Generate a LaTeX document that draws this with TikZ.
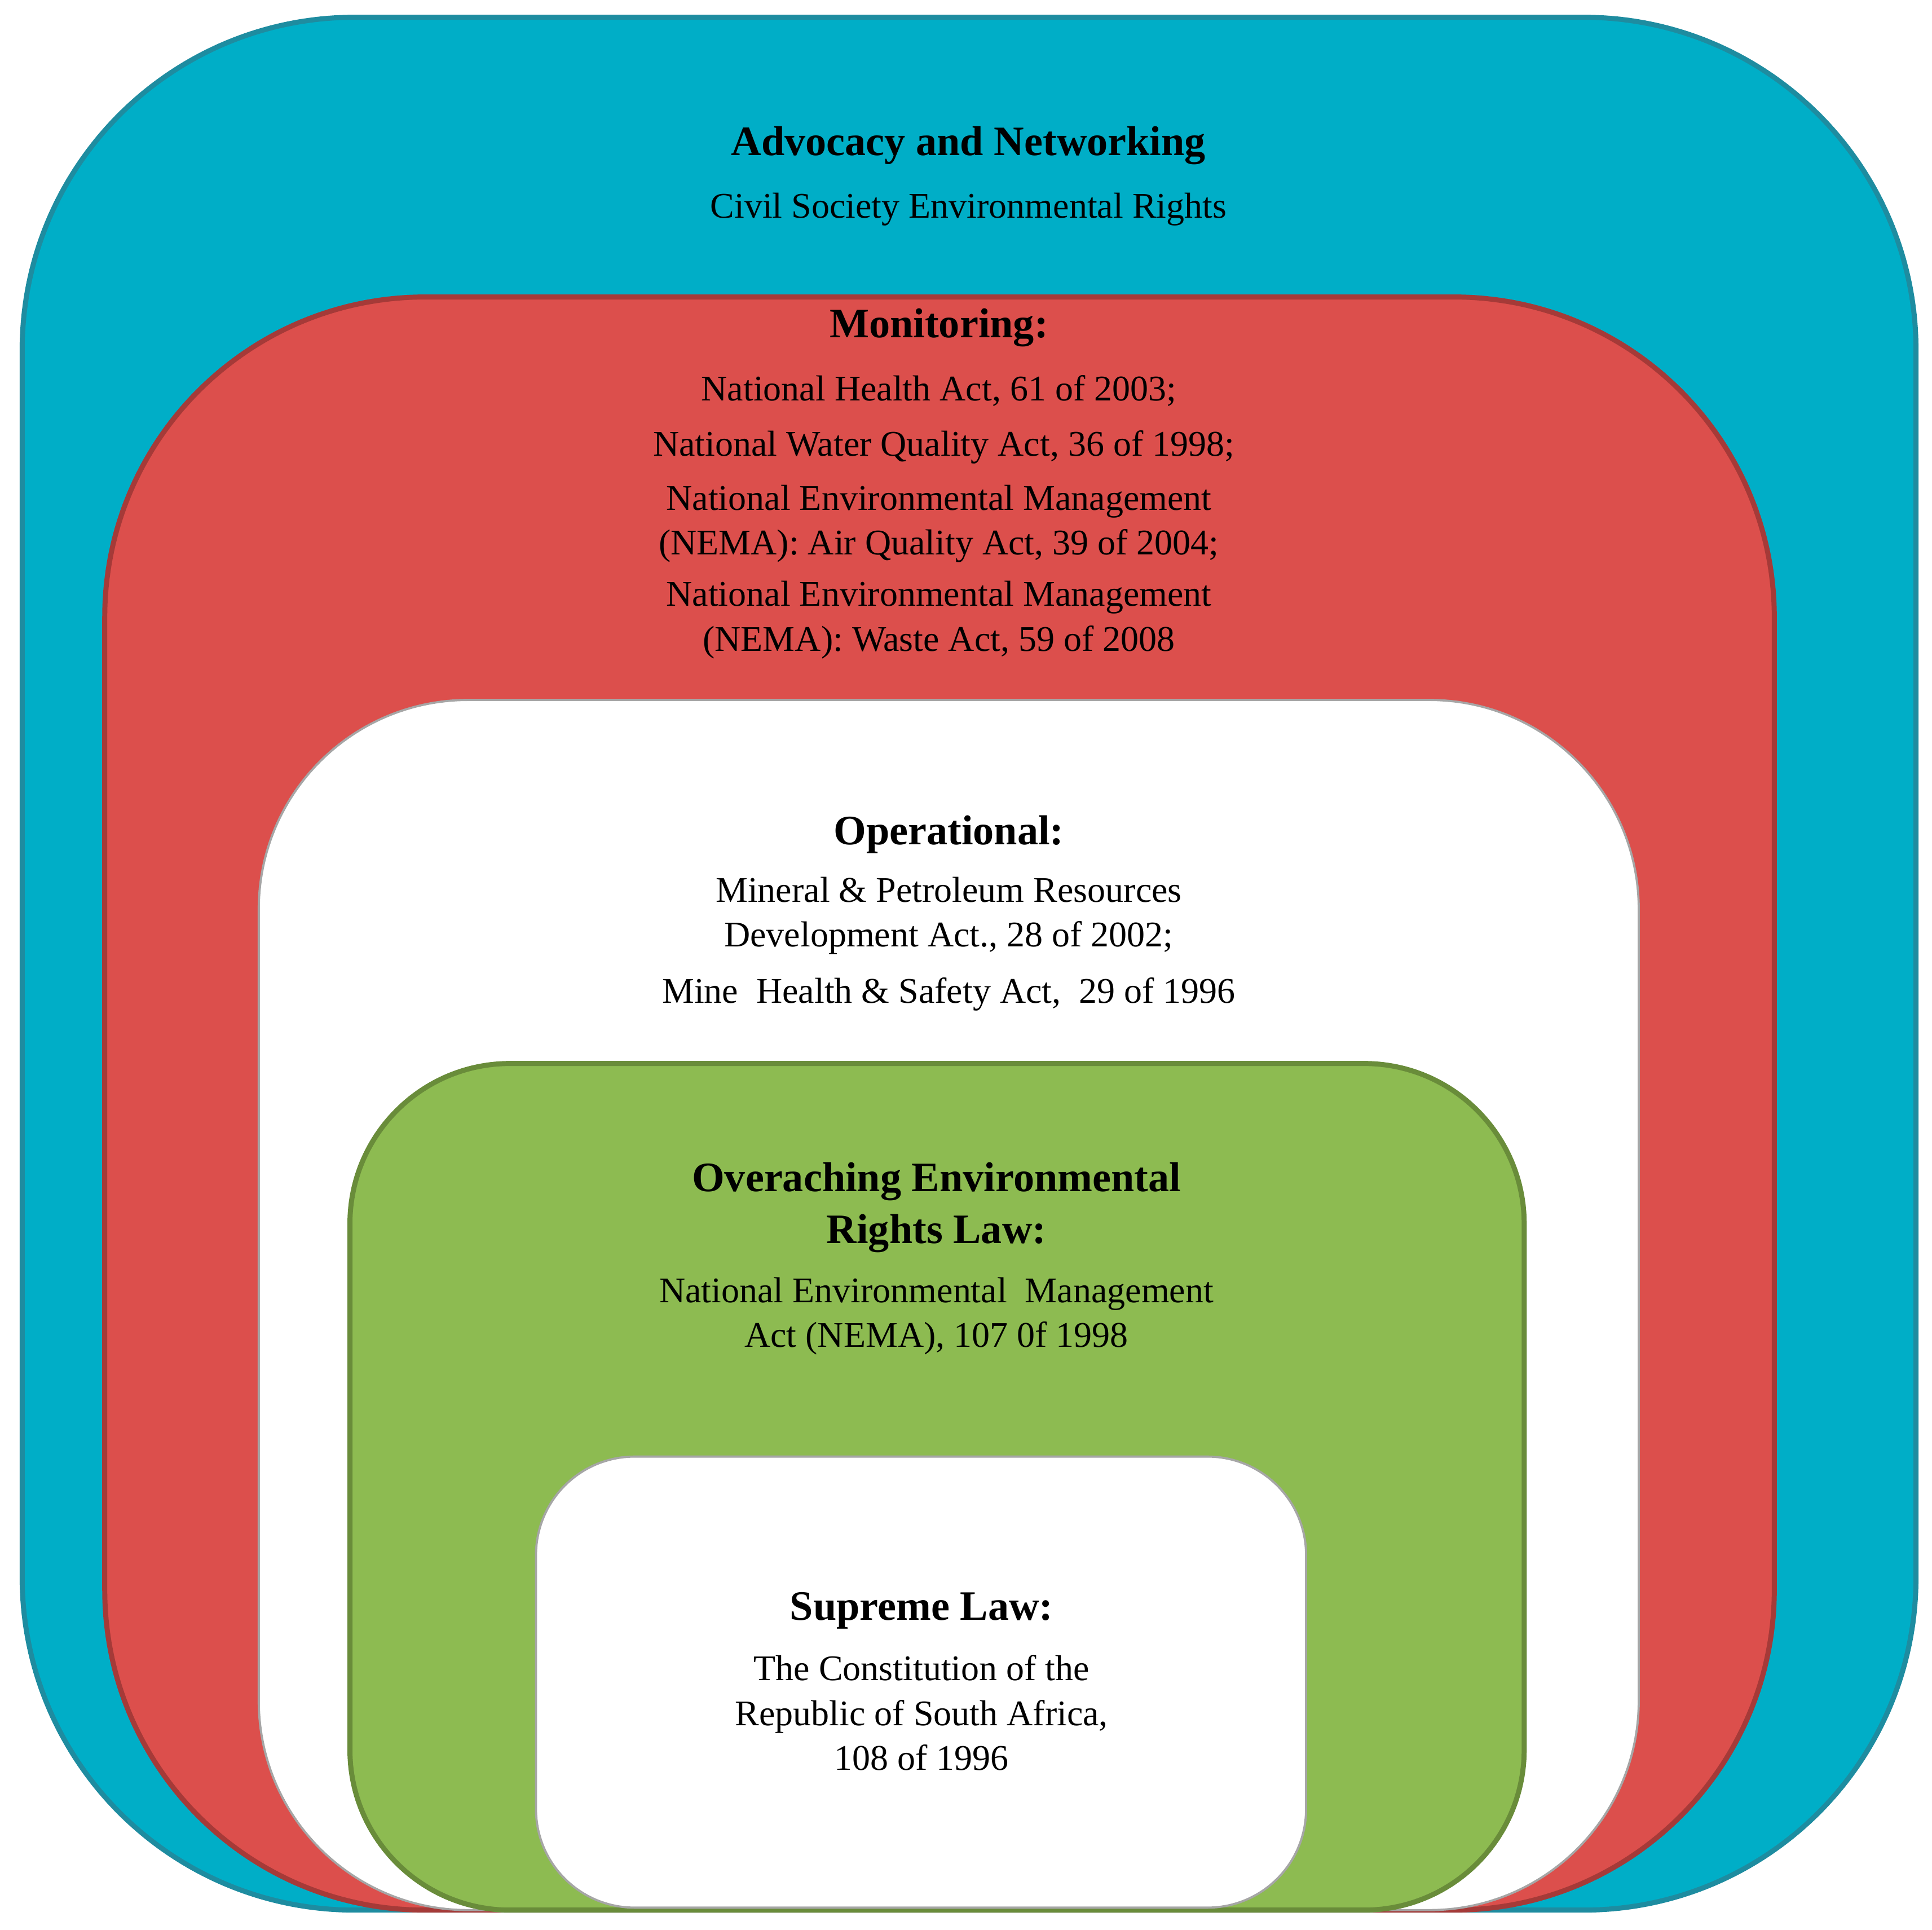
\documentclass[tikz,border=0pt]{standalone}
\usepackage{fontspec}
\setmainfont{Liberation Serif}
\begin{document}
\begin{tikzpicture}[x=0.03cm,y=-0.03cm,
 box/.style={line width=3.5pt},
 body/.style={font=\fontsize{25}{31}\selectfont,align=center,inner sep=0pt},
 head/.style={font=\fontsize{29}{36}\selectfont\bfseries,align=center,inner sep=0pt}]
\useasboundingbox (0,0) rectangle (1568,1566);
\definecolor{cblue}{RGB}{0,174,199}\definecolor{bblue}{RGB}{30,140,160}
\definecolor{cred}{RGB}{220,79,76}\definecolor{bred}{RGB}{165,58,56}
\definecolor{cgreen}{RGB}{141,187,81}\definecolor{bgreen}{RGB}{105,140,58}
\draw[box,fill=cblue,draw=bblue,rounded corners=8.1cm] (18,14) rectangle (1555,1550);
\draw[box,fill=cred,draw=bred,rounded corners=7.8cm] (85,241) rectangle (1440,1550);
\draw[box,fill=white,draw=gray!70,line width=1.5pt,rounded corners=5.1cm] (210,568) rectangle (1330,1550);
\draw[box,fill=cgreen,draw=bgreen,rounded corners=3.9cm] (284,863) rectangle (1237,1550);
\draw[box,fill=white,draw=gray!70,line width=1.5pt,rounded corners=2.4cm] (435,1182) rectangle (1060,1548);
\node[head] (a1) at (786,118) {Advocacy and Networking};
\node[body] (a2) at (786,170) {Civil Society Environmental Rights};
\node[head] (m1) at (762,266) {Monitoring:};
\node[body] (m2) at (762,317) {National Health Act, 61 of 2003;};
\node[body] (m3) at (766,363) {National Water Quality Act, 36 of 1998;};
\node[body] (m4) at (762,425) {National Environmental Management\\(NEMA): Air Quality Act, 39 of 2004;};
\node[body] (m5) at (762,503) {National Environmental Management\\(NEMA): Waste Act, 59 of 2008};
\node[head] (o1) at (770,677) {Operational:};
\node[body] (o2) at (770,743) {Mineral \& Petroleum Resources\\Development Act., 28 of 2002;};
\node[body] (o3) at (770,807) {Mine\ \ Health \& Safety Act,\ \ 29 of 1996};
\node[head] (g1) at (760,980) {Overaching Environmental\\Rights Law:};
\node[body] (g2) at (760,1068) {National Environmental\ \ Management\\Act (NEMA), 107 0f 1998};
\node[head] (s1) at (748,1307) {Supreme Law:};
\node[body] (s2) at (748,1390) {The Constitution of the\\Republic of South Africa,\\108 of 1996};
\end{tikzpicture}
\end{document}
